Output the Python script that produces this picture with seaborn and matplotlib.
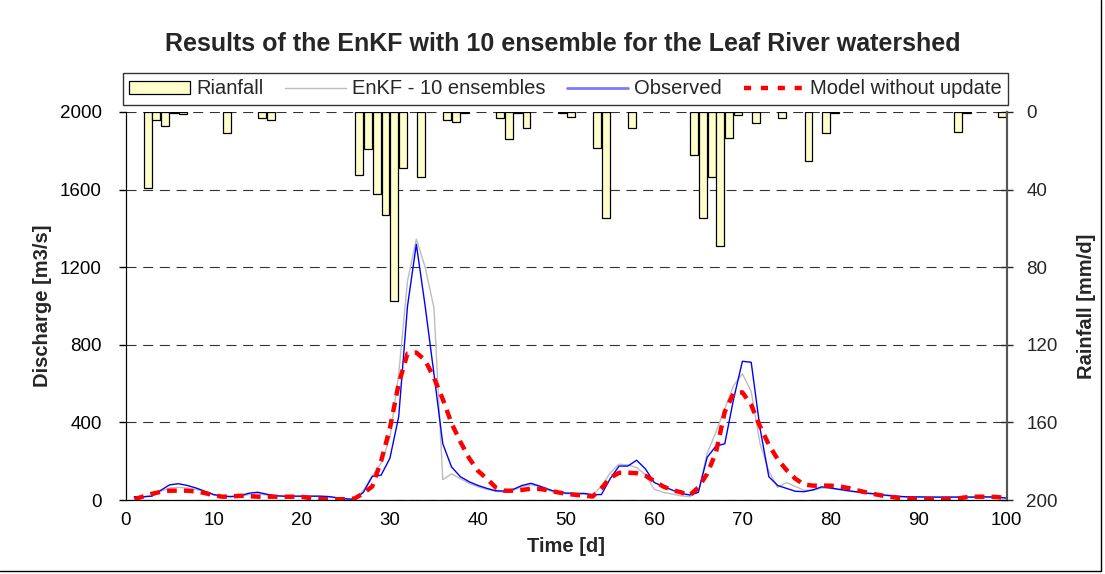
import matplotlib
matplotlib.use("Agg")

import numpy as np
import matplotlib.pyplot as plt
import seaborn as sns
from matplotlib.patches import Rectangle
from matplotlib.lines import Line2D

# ── Data ─────────────────────────────────────────────────────────────────────
days = list(range(1, 101))

observed = [
    17, 17, 20, 50, 78, 84, 75, 62, 45, 28,
    20, 18, 22, 35, 40, 30, 22, 20, 20, 20,
    20, 20, 18, 12, 6, 4, 40, 122, 128, 215,
    430, 1000, 1318, 1000, 650, 290, 170, 120, 94, 75,
    60, 48, 46, 55, 75, 86, 72, 55, 40, 36,
    34, 34, 28, 28, 110, 175, 175, 205, 160, 90,
    70, 52, 35, 26, 40, 220, 278, 290, 520, 715,
    710, 370, 120, 75, 60, 45, 43, 52, 68, 62,
    55, 48, 42, 36, 32, 26, 22, 18, 16, 16,
    15, 15, 15, 15, 15, 15, 16, 16, 14, 10,
]

enkf = [
    15, 15, 22, 45, 62, 65, 62, 55, 42, 26,
    18, 16, 18, 28, 32, 26, 20, 18, 18, 18,
    18, 18, 16, 10, 5, 4, 50, 125, 190, 320,
    650, 1130, 1345, 1200, 990, 105, 135, 110, 85, 68,
    55, 44, 42, 50, 68, 78, 68, 50, 36, 32,
    30, 30, 26, 70, 140, 185, 180, 168, 130, 55,
    40, 31, 22, 17, 40, 240, 350, 470, 590, 650,
    560, 290, 150, 65, 90, 70, 50, 50, 62, 60,
    53, 46, 40, 34, 30, 24, 20, 16, 15, 15,
    15, 15, 15, 15, 15, 15, 15, 15, 14, 10,
]

model = [
    4, 18, 32, 42, 48, 48, 48, 44, 36, 24,
    17, 18, 22, 20, 17, 17, 17, 17, 17, 16,
    10, 5, 4, 4, 4, 8, 35, 70, 200, 370,
    600, 755, 760, 720, 630, 520, 395, 300, 215, 150,
    110, 65, 48, 48, 52, 58, 57, 50, 40, 32,
    27, 22, 18, 60, 115, 140, 141, 138, 125, 98,
    70, 52, 40, 24, 65, 135, 245, 455, 550, 555,
    490, 380, 285, 210, 155, 110, 80, 74, 74, 74,
    70, 62, 50, 40, 30, 22, 15, 10, 7, 5,
    5, 5, 5, 5, 12, 17, 17, 17, 15, 9,
]

rain_day = [3, 4, 5, 6, 7, 12, 16, 17, 27, 28, 29, 30, 31, 32, 34, 37, 38, 39,
            43, 44, 45, 46, 50, 51, 54, 55, 58, 65, 66, 67, 68, 69, 70, 72, 75,
            78, 80, 81, 95, 96, 100]
rain_mm = [39, 4, 7.4, 0.7, 0.8, 11, 3.3, 4.1, 32.6, 19.2, 42.4, 53.3, 97.6, 29,
           33.3, 4.1, 5, 0.7, 3.3, 14.1, 0.7, 8.4, 0.7, 2.4, 18.4, 54.8, 8.4,
           22.3, 54.8, 33.3, 69.1, 13.2, 1.5, 5.8, 3.3, 25.1, 11, 0.7, 10.1,
           0.7, 2.4]

q_ticks = [0, 400, 800, 1200, 1600, 2000]
r_ticks = [0, 40, 80, 120, 160, 200]
x_ticks = list(range(0, 101, 10))

# ── Style ────────────────────────────────────────────────────────────────────
sns.set_style("white")
plt.rcParams["font.family"] = ["Liberation Sans", "DejaVu Sans"]

fig = plt.figure(figsize=(11.05, 5.74), dpi=100)
ax = fig.add_axes([0.1136, 0.1289, 0.7975, 0.6760])
ax2 = ax.twinx()

# discharge lines
sns.lineplot(x=days, y=enkf, ax=ax, color="#BDBDBD", linewidth=1.0, zorder=3)
sns.lineplot(x=days, y=observed, ax=ax, color="#0000FF", linewidth=1.0, zorder=4)
sns.lineplot(x=days, y=model, ax=ax, color="#FF0000", linewidth=3.2, zorder=5)
ax.lines[-1].set_dashes((2.2, 1.6))

ax.set_xlim(0, 100)
ax.set_ylim(0, 2000)
ax.set_xticks(x_ticks)
ax.set_yticks(q_ticks)
ax.yaxis.grid(True, color="#333333", linestyle=(0, (9, 6)), linewidth=0.8)
ax.xaxis.grid(False)
ax.tick_params(axis="both", labelsize=13.5, direction="out", length=5, width=1,
               colors="black")
ax.tick_params(axis="y", pad=12)
ax.set_xlabel("Time [d]", fontsize=14.5, fontweight="bold", labelpad=6)
ax.set_ylabel("Discharge [m3/s]", fontsize=14.5, fontweight="bold", labelpad=6)

# rainfall bars on inverted secondary axis
ax2.bar(np.array(rain_day) - 0.5, rain_mm, width=0.9, color="#FFFFCC",
        edgecolor="black", linewidth=0.9, zorder=2)
ax2.set_ylim(200, 0)
ax2.set_yticks(r_ticks)
ax2.tick_params(axis="y", labelsize=13.5, direction="inout", length=8, width=1, pad=10)
ax2.set_ylabel("Rainfall [mm/d]", fontsize=14.5, fontweight="bold", labelpad=14)

for a in (ax, ax2):
    a.spines["top"].set_visible(False)
    a.spines["left"].set_color("black")
    a.spines["bottom"].set_color("black")
    a.spines["right"].set_color("#555555")
    a.spines["right"].set_linewidth(1.5)

# legend
handles = [
    Rectangle((0, 0), 1, 1, facecolor="#FFFFCC", edgecolor="black", linewidth=0.9),
    Line2D([], [], color="#BDBDBD", linewidth=1.0),
    Line2D([], [], color="#7A7AFF", linewidth=2.0),
    Line2D([], [], color="#FF0000", linewidth=3.2, dashes=(1.6, 2.2)),
]
labels = ["Rianfall", "EnKF - 10 ensembles", "Observed", "Model without update"]
leg = fig.legend(handles, labels, loc="center", bbox_to_anchor=(0.512, 0.845),
                 ncol=4, fontsize=14.5, frameon=True, fancybox=False,
                 handlelength=3.0, handletextpad=0.3, columnspacing=1.1,
                 borderpad=0.3, handleheight=0.6)
leg.get_frame().set_edgecolor("black")
leg.get_frame().set_linewidth(1.0)

fig.suptitle("Results of the EnKF with 10 ensemble for the Leaf River watershed",
             x=0.509, y=0.945, fontsize=18, fontweight="bold")

# outer frame (right and bottom edges visible)
fig.lines.append(Line2D([0.996, 0.996, 0.0], [1.0, 0.005, 0.005],
                        transform=fig.transFigure, color="black", linewidth=1.0))

fig.savefig("out.png", dpi=100)
